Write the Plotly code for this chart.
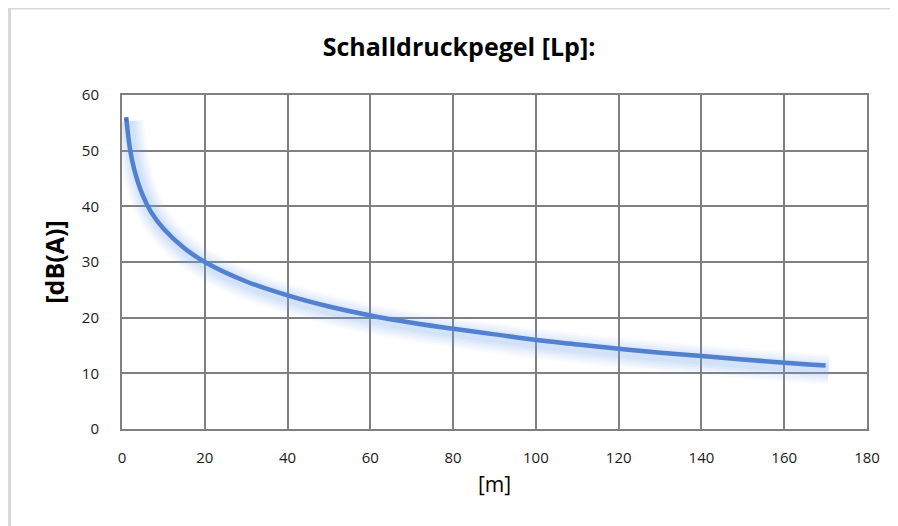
import plotly.graph_objects as go

distance_m = [1, 2, 3, 5, 7, 10, 15, 20, 30, 40, 50, 60, 70, 80, 90, 100, 110, 120, 130, 140, 150, 160, 170]
level_dba = [56, 50, 46.5, 42, 39, 36, 32.5, 30, 26.5, 24, 22, 20.4, 19.1, 18, 17, 16, 15.2, 14.4, 13.7, 13.1, 12.5, 11.9, 11.4]

x_ticks = [0, 20, 40, 60, 80, 100, 120, 140, 160, 180]
y_ticks = [0, 10, 20, 30, 40, 50, 60]

title_text = "Schalldruckpegel [Lp]:"
x_title = "[m]"
y_title = "[dB(A)]"

line_color = "#4472C4"

W, H = 890, 518
ml, mt = 114, 87
mr = W - (867 - 8)
mb = H - (429 - 8)
pw = W - ml - mr
ph = H - mt - mb

# glow (soft shadow) drawn on overlay axes shifted a few pixels right/down
dx = 3 * 180 / pw
dy = 4 * 60 / ph

fig = go.Figure()
for w, a in [(30, 0.05), (25, 0.06), (20, 0.07), (15, 0.08), (10, 0.10)]:
    fig.add_trace(go.Scatter(x=distance_m, y=level_dba, mode="lines", xaxis="x2", yaxis="y2",
                             line=dict(color=f"rgba(120,165,240,{a})", width=w, shape="spline"),
                             hoverinfo="skip", showlegend=False))
fig.add_trace(go.Scatter(x=distance_m, y=level_dba, mode="lines",
                         line=dict(color=line_color, width=4.5, shape="spline"), showlegend=False))

fig.update_layout(
    width=W, height=H,
    margin=dict(l=ml, r=mr, t=mt, b=mb),
    paper_bgcolor="white", plot_bgcolor="white",
    title=dict(text=f"<b>{title_text}</b>", x=(459 - 8) / W, xanchor="center", y=1 - (47 - 8) / H, yanchor="middle",
               font=dict(family="Open Sans", size=25, color="#000000")),
    font=dict(family="Open Sans", size=15, color="#1a1a1a"),
    xaxis=dict(range=[0, 180], tickvals=x_ticks, showgrid=True, gridcolor="#808080", gridwidth=2,
               showline=True, linecolor="#808080", linewidth=2, mirror=True, zeroline=False,
               ticks="", ticklabelstandoff=14,
               title=dict(text=x_title, font=dict(family="Open Sans", size=21, color="#000000"), standoff=11)),
    yaxis=dict(range=[0, 60], tickvals=y_ticks, showgrid=True, gridcolor="#808080", gridwidth=2,
               showline=True, linecolor="#808080", linewidth=2, mirror=True, zeroline=False,
               ticks="", ticklabelstandoff=18,
               title=dict(text=f"<b>{y_title}</b>", font=dict(family="Open Sans", size=25, color="#000000"), standoff=10)),
    xaxis2=dict(range=[-dx, 180 - dx], overlaying="x", visible=False),
    yaxis2=dict(range=[dy, 60 + dy], overlaying="y", visible=False),
    shapes=[
        dict(type="line", xref="paper", yref="paper", x0=(1 - ml) / pw, x1=(W + 10 - ml) / pw,
             y0=1 + (mt - 0.5) / ph, y1=1 + (mt - 0.5) / ph, line=dict(color="#D9D9D9", width=2)),
        dict(type="line", xref="paper", yref="paper", x0=(1.5 - ml) / pw, x1=(1.5 - ml) / pw,
             y0=1 + mt / ph, y1=-(mb + 10) / ph, line=dict(color="#D9D9D9", width=3)),
    ],
)

fig.write_html("out.html")
